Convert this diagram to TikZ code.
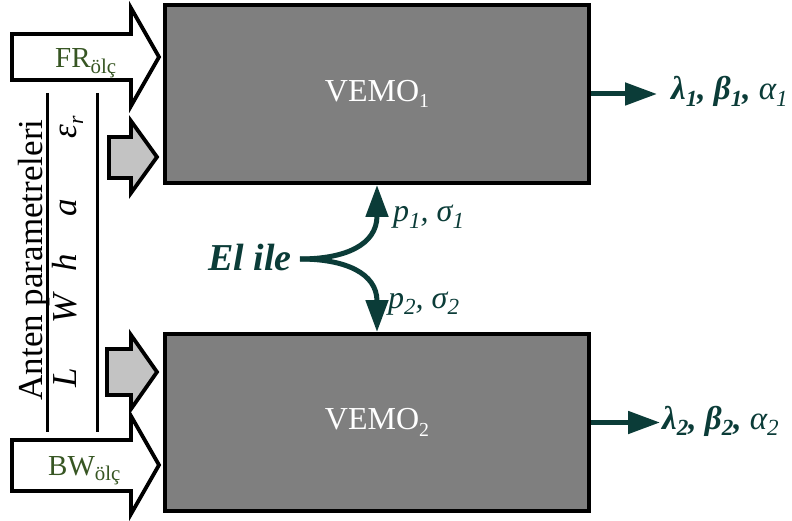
\documentclass[tikz,border=0pt]{standalone}
\usepackage{fontspec}
\setmainfont{Liberation Serif}
\usepackage{graphicx}
\usetikzlibrary{arrows.meta}
\definecolor{boxgray}{HTML}{7F7F7F}
\definecolor{lightg}{HTML}{C3C3C3}
\definecolor{ogreen}{HTML}{375623}
\definecolor{tealc}{HTML}{0B3C38}
\newcommand{\sbx}[2][0.65]{\raisebox{-0.2em}{\scalebox{#1}{#2}}}
\newcommand{\fsz}[1]{\fontsize{#1}{#1}\selectfont}
\begin{document}
\begin{tikzpicture}[x=1pt,y=-1pt,
  vemo/.style={draw=black, line width=4pt, fill=boxgray, text=white,
    font=\fsz{32}, minimum width=424pt, inner sep=0pt},
  blockarrow/.style={draw=black, line width=3.8pt, line join=miter},
  conn/.style={draw=tealc, line width=5pt, -{Triangle[length=32pt,width=22pt]}},
  outlbl/.style={text=tealc, font=\fsz{33}, anchor=base west, inner sep=0pt},
  param/.style={font=\fsz{35}\itshape, rotate=90, anchor=base, inner sep=0pt},
  measlbl/.style={text=ogreen, font=\fsz{29}, anchor=base west, inner sep=0pt},
  plbl/.style={text=tealc, font=\fsz{32}\itshape, anchor=base west, inner sep=0pt}]
\useasboundingbox (0,0) rectangle (792,521);

% boxes
\node[vemo, minimum height=178pt] (v1) at (377,94) {VEMO\sbx[0.62]{1}};
\node[vemo, minimum height=177pt] (v2) at (377,422.5) {VEMO\sbx[0.62]{2}};

% block arrows
\path[blockarrow, fill=white] (12,34) -- (131,34) -- (131,8) -- (159,57) -- (131,106) -- (131,80) -- (12,80) -- cycle;
\path[blockarrow, fill=white] (12,440) -- (131,440) -- (131,416) -- (159,465) -- (131,514) -- (131,491) -- (12,491) -- cycle;
\path[blockarrow, fill=lightg] (109,137) -- (131,137) -- (131,121) -- (157,157) -- (131,193) -- (131,178) -- (109,178) -- cycle;
\path[blockarrow, fill=lightg] (107,349) -- (131,349) -- (131,335) -- (157,372) -- (131,409) -- (131,395) -- (107,395) -- cycle;

\node[measlbl] (fr) at (55,68) {FR\sbx[0.72]{ölç}};
\node[measlbl] (bw) at (48,475) {BW\sbx[0.72]{ölç}};

% parameter column
\draw[line width=3pt] (47,93) -- (47,432);
\draw[line width=3pt] (97,93) -- (97,432);
\node[font=\fsz{35}, rotate=90, anchor=base, inner sep=0pt] (anten) at (42,260) {Anten parametreleri};
\node[param] (pL) at (76,378) {L};
\node[param] (pW) at (76,309) {W};
\node[param] (ph) at (76,263) {h};
\node[param] (pa) at (76,208) {a};
\node[param] (pe) at (76,127) {ε\sbx[0.62]{r}};

% manual
\node[text=tealc, font=\fsz{38}\bfseries\itshape, anchor=base east, inner sep=0pt] (el) at (292,270) {El ile};
\coordinate (elc) at (300,259);
\draw[conn] (elc) .. controls (345,259) and (377,245) .. (v1.south);
\draw[conn] (elc) .. controls (345,259) and (377,273) .. (v2.north);
\node[plbl] (p1) at (393,222) {p\sbx[0.72]{1}, σ\sbx[0.72]{1}};
\node[plbl] (p2) at (388,308) {p\sbx[0.72]{2}, σ\sbx[0.72]{2}};

% outputs
\coordinate (o1) at (657,94);
\coordinate (o2) at (660,422.5);
\draw[conn] (v1.east) -- (o1);
\draw[conn] (v2.east) -- (o2);
\node[outlbl] (r1) at (671,100) {\textbf{\textit{λ\sbx[0.7]{1}, β\sbx[0.7]{1},}} \textit{α\sbx[0.7]{1}}};
\node[outlbl] (r2) at (662,429) {\textbf{\textit{λ\sbx[0.7]{2}, β\sbx[0.7]{2},}} \textit{α\sbx[0.7]{2}}};
\end{tikzpicture}
\end{document}
